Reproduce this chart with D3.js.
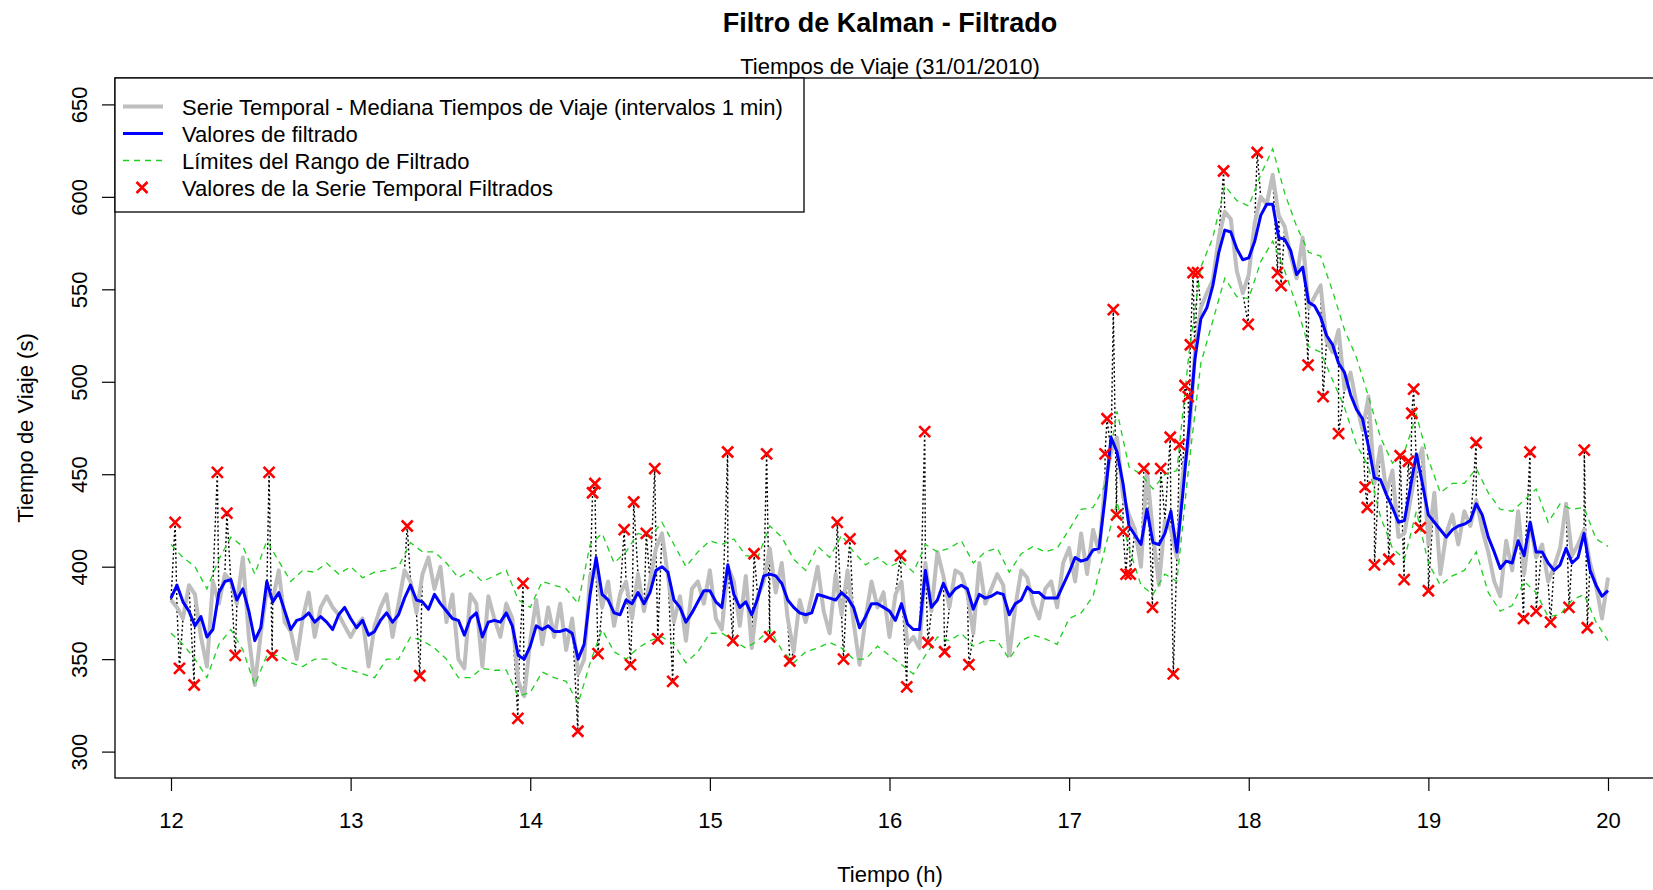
<!DOCTYPE html>
<html><head><meta charset="utf-8">
<script src="https://cdn.jsdelivr.net/npm/d3@7"></script>
<style>
body{margin:0;background:#fff;}
svg{display:block;font-family:"Liberation Sans",Arial,sans-serif;}
</style>
</head><body>
<svg id="chart" width="1653" height="890"></svg>
<script>
// ---------------- DATA ----------------
const titleText = "Filtro de Kalman - Filtrado";
const subtitleText = "Tiempos de Viaje (31/01/2010)";
const xLabel = "Tiempo (h)";
const yLabel = "Tiempo de Viaje (s)";
const xTicks = [12, 13, 14, 15, 16, 17, 18, 19, 20];
const yTicks = [300, 350, 400, 450, 500, 550, 600, 650];
const legendLabels = [
  "Serie Temporal - Mediana Tiempos de Viaje (intervalos 1 min)",
  "Valores de filtrado",
  "Límites del Rango de Filtrado",
  "Valores de la Serie Temporal Filtrados"
];
const startHour = 12;
const seriesStepMin = 2;   // gray and blue series: one value every 2 minutes
const boundsStepMin = 4;   // green bounds: one value every 4 minutes

// Serie temporal (gray), 12:00 -> 20:00
const serieTemporal = [
382,378,372,390,385,362,346,392,380,396,392,380,405,362,336,364,387,382,398,370,
365,350,372,386,362,378,384,378,374,368,362,368,372,346,368,378,385,362,380,398,
392,375,396,405,388,400,370,385,350,345,385,380,346,384,372,362,380,372,338,330,
360,382,358,378,362,380,355,372,342,350,395,400,378,392,368,385,392,372,396,376,
392,410,418,395,370,384,360,388,392,380,398,372,366,400,392,368,395,356,384,392,
410,386,402,372,354,382,370,384,400,376,364,396,374,398,370,347,372,392,378,386,
362,385,392,358,362,356,402,376,408,395,378,398,396,386,364,402,380,388,396,390,
352,378,398,394,380,372,388,392,378,402,410,392,418,396,420,408,445,462,470,438,
428,420,400,452,418,390,425,420,405,450,468,515,540,548,555,578,592,588,560,548,
558,586,600,596,612,590,584,568,556,578,540,546,552,522,516,528,496,505,488,474,
492,445,465,440,452,416,418,436,455,464,412,440,396,418,428,412,430,422,436,420,
408,392,384,414,398,430,396,424,405,412,392,400,410,434,406,412,420,402,390,372,
394
];

// Valores de filtrado (blue)
const filtrado = [
383,390,381,376,368,373,362,366,386,392,393,382,388,376,360,367,392,381,386,376,
366,371,372,375,370,373,370,366,374,378,372,367,371,363,365,371,375,370,374,383,
390,382,381,377,385,380,376,372,371,363,372,375,362,370,371,370,375,368,352,350,
357,368,366,368,365,365,366,364,350,358,385,405,385,382,375,374,382,380,386,380,
386,398,400,397,382,378,370,375,381,387,387,381,378,401,385,378,381,374,383,395,
396,395,391,382,378,375,374,375,385,384,383,382,386,383,378,367,373,380,380,378,
376,371,380,369,366,366,398,378,382,391,384,388,390,388,377,385,383,384,386,385,
374,380,382,389,386,386,383,383,383,390,397,405,403,404,409,410,437,470,462,445,
422,417,412,431,413,412,418,430,408,440,475,512,534,540,552,570,582,581,572,566,
567,576,590,596,596,578,577,571,558,562,543,541,535,525,520,510,505,493,485,480,
465,448,447,439,432,424,425,443,461,445,428,424,420,416,420,422,423,425,434,428,
416,408,399,403,402,414,406,424,408,408,402,398,401,410,402,405,418,398,390,384,
387
];

// Límites del rango de filtrado (green dashed)
const limiteSuperior = [
412,405,400,388,404,416,411,396,414,403,392,398,397,402,396,400,394,397,398,400,
413,408,408,402,394,398,392,395,398,382,378,392,390,388,380,412,418,402,408,418,
416,424,412,400,408,414,412,415,406,405,422,416,404,398,411,405,417,408,401,405,
400,403,397,412,408,410,414,402,408,410,397,407,411,408,410,420,431,432,444,484,
454,450,442,450,452,515,562,578,606,598,595,612,626,602,584,570,568,549,528,513,
492,470,456,462,482,458,440,445,445,453,440,431,430,436,442,424,434,431,432,415,
411
];
const limiteInferior = [
364,358,350,340,358,366,355,336,352,352,348,346,350,350,346,344,342,340,350,350,
362,360,356,350,340,340,345,344,344,330,332,343,340,338,326,348,366,354,350,356,
360,362,358,348,354,364,364,360,356,360,366,355,348,354,356,359,356,350,350,357,
352,347,342,352,362,360,364,357,360,360,350,360,363,361,358,372,375,384,410,435,
410,390,385,396,392,455,510,533,556,546,545,565,576,560,541,519,516,501,486,466,
454,427,410,404,430,402,390,395,398,408,386,376,379,392,386,373,374,382,385,370,
360
];

// Valores de la serie temporal filtrados (red crosses): hour and value
const filtradosHora = [
12.023,12.047,12.129,12.258,12.311,12.358,12.546,12.563,13.315,13.385,
13.931,13.960,14.265,14.347,14.360,14.377,14.523,14.558,14.576,14.646,
14.693,14.710,14.793,15.099,15.128,15.246,15.316,15.333,15.445,15.709,
15.744,15.780,16.061,16.096,16.196,16.214,16.307,16.442,17.200,17.211,
17.246,17.264,17.300,17.317,17.340,17.416,17.464,17.510,17.563,17.580,
17.615,17.645,17.663,17.675,17.690,17.715,17.860,17.997,18.047,18.160,
18.180,18.330,18.414,18.500,18.648,18.660,18.700,18.780,18.843,18.865,
18.889,18.908,18.918,18.955,19.000,19.266,19.530,19.566,19.600,19.680,
19.783,19.868,19.885
];
const filtradosValor = [
424,345,336,451,429,352,451,352,422,341,
318,391,311,440,445,353,420,347,435,418,
453,361,338,462,360,407,461,362,349,424,
350,415,406,335,473,359,354,347,461,480,
539,428,419,396,396,453,378,453,470,342,
466,498,492,520,559,559,614,531,624,559,
552,509,492,472,443,432,401,404,460,393,
457,483,496,421,387,467,372,462,376,370,
378,463,367
];

// ---------------- DRAWING ----------------
const svg = d3.select("#chart");
const W = 1653, H = 890;
const box = {left: 115, top: 78, bottom: 778, right: 1666};

const x = d3.scaleLinear().domain([12, 20]).range([171, 1608]);
const y = d3.scaleLinear().domain([300, 650]).range([751.6, 104.4]);

const hourAt = (i, step) => startHour + i * step / 60;
const grayPts = serieTemporal.map((v, i) => [hourAt(i, seriesStepMin), v]);
const bluePts = filtrado.map((v, i) => [hourAt(i, seriesStepMin), v]);
const upPts = limiteSuperior.map((v, i) => [hourAt(i, boundsStepMin), v]);
const loPts = limiteInferior.map((v, i) => [hourAt(i, boundsStepMin), v]);
const outPts = filtradosHora.map((h, i) => [h, filtradosValor[i]]);

const line = d3.line().x(d => x(d[0])).y(d => y(d[1]));

svg.append("defs").append("clipPath").attr("id", "clip")
  .append("rect").attr("x", box.left).attr("y", box.top)
  .attr("width", box.right - box.left).attr("height", box.bottom - box.top);

const plot = svg.append("g").attr("clip-path", "url(#clip)");

// dotted raw series (gray points merged with filtered-out values)
const rawPts = grayPts.concat(outPts).sort((a, b) => a[0] - b[0]);
plot.append("path").datum(rawPts).attr("d", line)
  .attr("fill", "none").attr("stroke", "#000").attr("stroke-width", 1.4)
  .attr("stroke-dasharray", "2,2.5");

// gray series
plot.append("path").datum(grayPts).attr("d", line)
  .attr("fill", "none").attr("stroke", "#bebebe").attr("stroke-width", 4)
  .attr("stroke-linejoin", "round");

// green bounds
[upPts, loPts].forEach(pts => {
  plot.append("path").datum(pts).attr("d", line)
    .attr("fill", "none").attr("stroke", "#1ecf1e").attr("stroke-width", 1.3)
    .attr("stroke-dasharray", "6,5");
});

// blue filtered
plot.append("path").datum(bluePts).attr("d", line)
  .attr("fill", "none").attr("stroke", "#0000ff").attr("stroke-width", 3)
  .attr("stroke-linejoin", "round");

// red crosses
const cs = 5.5;
const crossPath = `M${-cs},${-cs}L${cs},${cs}M${-cs},${cs}L${cs},${-cs}`;
plot.selectAll("path.cross").data(outPts).enter().append("path")
  .attr("class", "cross")
  .attr("transform", d => `translate(${x(d[0])},${y(d[1])})`)
  .attr("d", crossPath)
  .attr("stroke", "#ff0000").attr("stroke-width", 2.6).attr("fill", "none");

// plot box (right side lies outside the picture)
svg.append("rect").attr("x", box.left).attr("y", box.top)
  .attr("width", box.right - box.left).attr("height", box.bottom - box.top)
  .attr("fill", "none").attr("stroke", "#000").attr("stroke-width", 1.3);

// axes
const xAxis = svg.append("g").attr("transform", `translate(0,${box.bottom})`)
  .call(d3.axisBottom(x).tickValues(xTicks).tickSize(13).tickPadding(21).tickFormat(d3.format("d")));
xAxis.select(".domain").remove();
xAxis.selectAll("line").attr("stroke", "#000").attr("stroke-width", 1.2);
xAxis.selectAll("text").attr("font-size", 22).attr("fill", "#000")
  .attr("font-family", '"Liberation Sans",Arial,sans-serif');

const yAxis = svg.append("g").attr("transform", `translate(${box.left},0)`)
  .call(d3.axisLeft(y).tickValues(yTicks).tickSize(13).tickFormat(d3.format("d")));
yAxis.select(".domain").remove();
yAxis.selectAll("line").attr("stroke", "#000").attr("stroke-width", 1.2);
yAxis.selectAll("text")
  .attr("x", null).attr("dy", null)
  .attr("text-anchor", "middle")
  .attr("transform", "translate(-28,0) rotate(-90)")
  .attr("font-size", 22).attr("fill", "#000")
  .attr("font-family", '"Liberation Sans",Arial,sans-serif');

// titles
svg.append("text").attr("x", 890).attr("y", 32).attr("text-anchor", "middle")
  .attr("font-size", 27).attr("font-weight", "bold").text(titleText);
svg.append("text").attr("x", 890).attr("y", 74).attr("text-anchor", "middle")
  .attr("font-size", 22).text(subtitleText);
svg.append("text").attr("x", 890).attr("y", 882).attr("text-anchor", "middle")
  .attr("font-size", 22).text(xLabel);
svg.append("text").attr("transform", `translate(33,${(box.top + box.bottom) / 2}) rotate(-90)`)
  .attr("text-anchor", "middle").attr("font-size", 22).text(yLabel);

// legend
const lg = svg.append("g");
lg.append("rect").attr("x", box.left).attr("y", box.top).attr("width", 689).attr("height", 134)
  .attr("fill", "#fff").attr("stroke", "#000").attr("stroke-width", 1.3);
const rowY = i => 106.5 + i * 27;
const styles = [
  {stroke: "#bebebe", w: 4, dash: null},
  {stroke: "#0000ff", w: 3, dash: null},
  {stroke: "#1ecf1e", w: 1.3, dash: "6,5"}
];
styles.forEach((s, i) => {
  lg.append("line").attr("x1", 123).attr("x2", 163).attr("y1", rowY(i)).attr("y2", rowY(i))
    .attr("stroke", s.stroke).attr("stroke-width", s.w).attr("stroke-dasharray", s.dash);
});
lg.append("path").attr("transform", `translate(142,${rowY(3)})`).attr("d", crossPath)
  .attr("stroke", "#ff0000").attr("stroke-width", 2.6).attr("fill", "none");
legendLabels.forEach((t, i) => {
  lg.append("text").attr("x", 182).attr("y", rowY(i) + 8).attr("font-size", 22).text(t);
});
</script>
</body></html>
